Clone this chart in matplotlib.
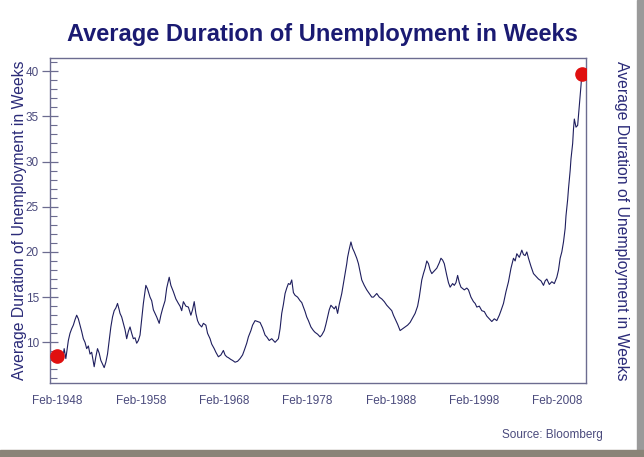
import matplotlib
matplotlib.use("Agg")
import matplotlib.pyplot as plt
from matplotlib.patches import Rectangle

plt.rcParams['font.family'] = ['Liberation Sans', 'DejaVu Sans']

# Average duration of unemployment (weeks)
years = [
    1948.0, 1948.4, 1948.7, 1948.9, 1949.1, 1949.4, 1949.6, 1949.8, 1950.0, 1950.2,
    1950.4, 1950.6, 1950.8, 1951.0, 1951.2, 1951.4, 1951.6, 1951.8, 1952.0, 1952.2,
    1952.5, 1952.7, 1952.9, 1953.1, 1953.3, 1953.5, 1953.7, 1953.9, 1954.1, 1954.3,
    1954.5, 1954.7, 1954.9, 1955.1, 1955.3, 1955.5, 1955.6, 1955.8, 1956.0, 1956.2,
    1956.4, 1956.6, 1956.8, 1957.0, 1957.2, 1957.4, 1957.6, 1957.8, 1958.0, 1958.2,
    1958.4, 1958.6, 1958.7, 1958.9, 1959.2, 1959.4, 1959.6, 1959.8, 1960.0, 1960.3,
    1960.5, 1960.7, 1961.0, 1961.2, 1961.4, 1961.5, 1961.7, 1962.0, 1962.3, 1962.6,
    1962.8, 1963.0, 1963.2, 1963.5, 1963.8, 1964.1, 1964.3, 1964.5, 1964.7, 1964.9,
    1965.1, 1965.4, 1965.6, 1965.9, 1966.1, 1966.4, 1966.6, 1966.9, 1967.1, 1967.4,
    1967.7, 1968.0, 1968.2, 1968.4, 1968.6, 1968.9, 1969.1, 1969.4, 1969.7, 1970.0,
    1970.3, 1970.5, 1970.8, 1971.0, 1971.3, 1971.5, 1971.8, 1972.1, 1972.4, 1972.7,
    1973.0, 1973.2, 1973.5, 1973.8, 1974.2, 1974.6, 1974.8, 1975.0, 1975.2, 1975.4,
    1975.6, 1975.8, 1976.0, 1976.2, 1976.4, 1976.6, 1976.9, 1977.2, 1977.4, 1977.6,
    1977.8, 1978.0, 1978.2, 1978.5, 1978.8, 1979.0, 1979.3, 1979.6, 1979.8, 1980.1,
    1980.3, 1980.5, 1980.7, 1980.9, 1981.1, 1981.3, 1981.5, 1981.7, 1981.9, 1982.2,
    1982.4, 1982.6, 1982.8, 1982.9, 1983.1, 1983.3, 1983.5, 1983.7, 1984.0, 1984.2,
    1984.4, 1984.6, 1984.9, 1985.2, 1985.5, 1985.8, 1986.0, 1986.4, 1986.7, 1987.0,
    1987.3, 1987.6, 1987.9, 1988.2, 1988.4, 1988.6, 1988.9, 1989.2, 1989.5, 1989.8,
    1990.1, 1990.4, 1990.7, 1991.0, 1991.3, 1991.5, 1991.8, 1992.0, 1992.2, 1992.4,
    1992.6, 1992.8, 1993.0, 1993.3, 1993.6, 1993.9, 1994.1, 1994.3, 1994.5, 1994.8,
    1995.0, 1995.2, 1995.5, 1995.7, 1995.9, 1996.1, 1996.3, 1996.5, 1996.9, 1997.2,
    1997.4, 1997.7, 1998.0, 1998.2, 1998.4, 1998.7, 1999.0, 1999.3, 1999.6, 1999.9,
    2000.2, 2000.5, 2000.8, 2001.1, 2001.3, 2001.6, 2001.9, 2002.2, 2002.5, 2002.8,
    2003.0, 2003.2, 2003.5, 2003.8, 2004.0, 2004.2, 2004.4, 2004.6, 2004.9, 2005.2,
    2005.5, 2005.8, 2006.1, 2006.4, 2006.6, 2006.8, 2007.1, 2007.4, 2007.7, 2008.0,
    2008.2, 2008.4, 2008.6, 2008.8, 2009.0, 2009.1, 2009.3, 2009.4, 2009.6, 2009.7,
    2009.9, 2010.0, 2010.1, 2010.3, 2010.5, 2010.7, 2010.9, 2011.0,
]
weeks = [
    8.5, 8.6, 8.0, 9.3, 8.2, 10.2, 11.0, 11.5, 11.9, 12.5,
    13.0, 12.6, 11.9, 11.2, 10.4, 10.0, 9.3, 9.6, 8.7, 8.9,
    7.3, 8.4, 9.3, 8.8, 8.0, 7.6, 7.2, 7.8, 8.7, 10.2,
    11.7, 12.8, 13.5, 13.8, 14.3, 13.6, 13.2, 12.8, 12.1, 11.4,
    10.4, 11.2, 11.7, 11.0, 10.4, 10.5, 9.9, 10.2, 10.8, 12.5,
    14.3, 15.6, 16.3, 15.9, 15.0, 14.6, 13.6, 13.2, 12.8, 12.1,
    13.0, 13.7, 14.6, 16.0, 16.8, 17.2, 16.3, 15.6, 14.8, 14.3,
    14.0, 13.5, 14.5, 14.0, 13.9, 13.0, 13.6, 14.5, 13.2, 12.4,
    12.0, 11.7, 12.1, 11.9, 11.0, 10.4, 9.8, 9.3, 8.9, 8.4,
    8.6, 9.1, 8.6, 8.4, 8.3, 8.1, 8.0, 7.8, 7.9, 8.2,
    8.6, 9.1, 9.9, 10.6, 11.3, 11.9, 12.4, 12.3, 12.2, 11.6,
    10.8, 10.6, 10.2, 10.4, 10.0, 10.4, 11.5, 13.2, 14.2, 15.4,
    16.0, 16.5, 16.4, 16.9, 15.5, 15.2, 15.0, 14.6, 14.4, 13.9,
    13.4, 12.8, 12.4, 11.7, 11.3, 11.1, 10.9, 10.6, 10.8, 11.3,
    12.0, 12.8, 13.6, 14.1, 13.9, 13.7, 14.0, 13.2, 14.2, 15.4,
    16.5, 17.6, 18.7, 19.4, 20.3, 21.1, 20.4, 20.0, 19.3, 18.7,
    17.8, 16.9, 16.3, 15.8, 15.4, 15.0, 15.0, 15.4, 15.0, 14.8,
    14.5, 14.1, 13.8, 13.5, 13.0, 12.6, 12.0, 11.3, 11.5, 11.7,
    11.9, 12.2, 12.7, 13.2, 14.0, 15.0, 16.9, 17.6, 18.2, 19.0,
    18.7, 18.0, 17.6, 17.9, 18.2, 18.8, 19.3, 19.1, 18.7, 17.4,
    16.6, 16.1, 16.5, 16.3, 16.6, 17.4, 16.6, 16.1, 15.8, 16.0,
    15.8, 15.0, 14.5, 14.3, 13.9, 14.0, 13.5, 13.4, 12.9, 12.6,
    12.3, 12.6, 12.4, 13.0, 13.5, 14.3, 15.6, 16.7, 18.2, 19.3,
    19.0, 19.8, 19.4, 20.2, 19.7, 19.6, 20.0, 19.3, 18.4, 17.6,
    17.3, 17.0, 16.8, 16.3, 16.8, 17.0, 16.4, 16.7, 16.5, 17.2,
    18.0, 19.3, 20.0, 21.1, 22.6, 24.0, 25.8, 27.0, 29.0, 30.3,
    32.0, 33.6, 34.7, 33.8, 34.0, 36.2, 38.4, 39.7,
]

tick_years = [1948.08, 1958.08, 1968.08, 1978.08, 1988.08, 1998.08, 2008.08]
tick_labels = ['Feb-1948', 'Feb-1958', 'Feb-1968', 'Feb-1978', 'Feb-1988', 'Feb-1998', 'Feb-2008']
y_ticks = [10, 15, 20, 25, 30, 35, 40]

title_col = '#1a1a72'
label_col = '#2a2a78'
tick_col = '#4a4a7c'
frame_col = '#6c6c90'

fig = plt.figure(figsize=(6.44, 4.57), dpi=100)
ax = fig.add_axes([50 / 644, 1 - 383 / 457, 536 / 644, 325 / 457])

ax.plot(years, weeks, color='#1e1e5e', lw=0.8)
ax.plot([years[0], years[-1]], [weeks[0], weeks[-1]], 'o', color='#e01010', ms=9.5, zorder=5)

ax.set_xlim(1947.2, 2011.5)
ax.set_ylim(5.5, 41.45)

ax.set_xticks(tick_years)
ax.set_xticklabels(tick_labels)
ax.tick_params(axis='x', length=0, pad=9, labelsize=8.5, labelcolor=tick_col)

ax.set_yticks(y_ticks)
ax.set_yticks(range(6, 42), minor=True)
ax.tick_params(axis='y', which='major', direction='inout', length=12, width=0.9,
               color=frame_col, labelsize=8.5, labelcolor=tick_col, pad=2,
               left=True, right=True, labelleft=True, labelright=True)
ax.tick_params(axis='y', which='minor', direction='in', length=5, width=0.8,
               color=frame_col, left=True, right=True)

for s in ax.spines.values():
    s.set_color(frame_col)
    s.set_linewidth(1.0)

ax.set_ylabel('Average Duration of Unemployment in Weeks', color=label_col, fontsize=11.3, labelpad=-1)
ax2 = ax.twinx()
ax2.set_ylim(ax.get_ylim())
ax2.set_yticks([])
ax2.set_ylabel('Average Duration of Unemployment in Weeks', color=label_col, fontsize=11.3,
               rotation=-90, labelpad=31)
for s in ax2.spines.values():
    s.set_visible(False)

fig.text(0.5, 1 - 35 / 457, 'Average Duration of Unemployment in Weeks', ha='center', va='center',
         fontsize=17, fontweight='bold', color=title_col)
fig.text(603 / 644, 1 - 435 / 457, 'Source: Bloomberg', ha='right', va='center',
         fontsize=8.5, color=tick_col)

# drop-shadow edges of the original picture
fig.patches.append(Rectangle((637 / 644, 0), 7 / 644, 1, transform=fig.transFigure,
                             color='#9a9a9a', zorder=0))
fig.patches.append(Rectangle((0, 0), 1, 7 / 457, transform=fig.transFigure,
                             color='#8a8478', zorder=0))

fig.savefig('out.png', dpi=100)
